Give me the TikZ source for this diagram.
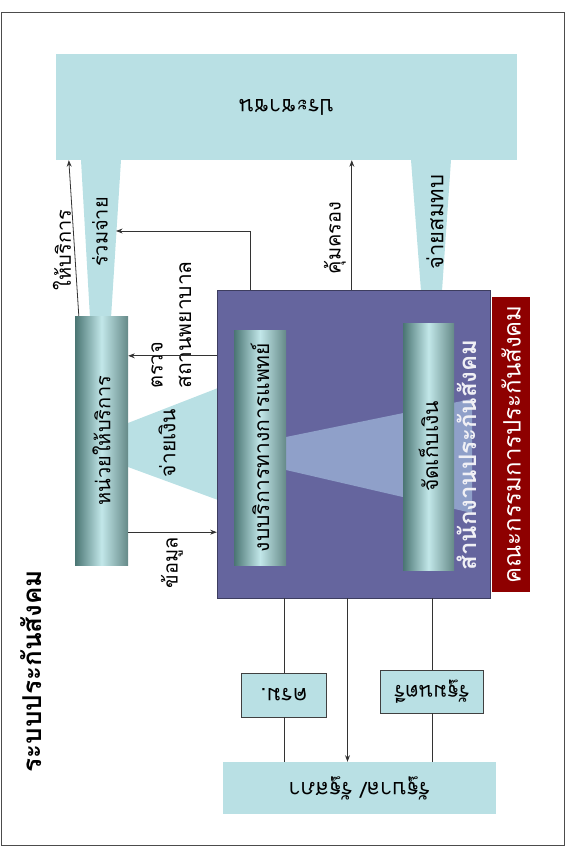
\documentclass[tikz,border=0pt]{standalone}
\usepackage{fontspec}
\newfontfamily\thaifont[Script=Thai]{Loma}
\usepackage{tikz}
\usetikzlibrary{calc,arrows.meta}

\definecolor{paleblue}{HTML}{B9E0E4}
\definecolor{ssoblue}{HTML}{65659E}
\definecolor{fundblue}{HTML}{8FA0C9}
\definecolor{boardred}{HTML}{8E0000}
\definecolor{tubedark}{HTML}{4A7573}
\definecolor{tubelight}{HTML}{C2E7E9}

\newcommand{\thsize}[1]{\thaifont\fontsize{#1}{#1}\selectfont}

\begin{document}
\begin{tikzpicture}[x=1pt,y=-1pt,>=Stealth,font=\thsize{20}]
		\tikzstyle{pale}=[fill=paleblue,inner sep=0pt]
		\tikzstyle{smallbox}=[draw=black!75,thick,fill=paleblue,inner sep=0pt]
		\tikzstyle{tube}=[left color=tubedark,right color=tubedark!85,middle color=tubelight,inner sep=0pt]
		\tikzstyle{note}=[rotate=90,inner sep=1pt]
		\tikzstyle{flip}=[rotate=180,inner sep=1pt]
		\tikzstyle{link}=[thick,draw=black!80]
		
		\useasboundingbox (0,0) rectangle (568,848);
		\draw[thick,black!70] (1,12) rectangle (564,845);
		
		% boxes
		\node[pale,minimum width=461,minimum height=106] (people) at (286.5,107) {};
		\node[pale,minimum width=273,minimum height=52] (gov) at (359.5,788) {};
		\node[smallbox,minimum width=85,minimum height=44] (cabinet) at (284,695) {};
		\node[smallbox,minimum width=103,minimum height=43] (minister) at (432,691.5) {};
		
		% flows
		\fill[paleblue] (81,160) -- (121,160) -- (111,318) -- (90,318) -- cycle;
		\fill[paleblue] (411,160) -- (451,160) -- (442,291) -- (421,291) -- cycle;
		\fill[paleblue] (128,423) -- (218,388) -- (218,500) -- (128,467) -- cycle;
		
		\node[fill=ssoblue,draw=ssoblue!60!black,minimum width=273,minimum height=308,inner sep=0pt] (sso) at (353.5,444) {};
		\node[fill=boardred,minimum width=38,minimum height=295,inner sep=0pt] (board) at (511,444.5) {};
		\fill[fundblue] (286,437) -- (472,399) -- (472,513) -- (286,470) -- cycle;
		
		\node[tube,minimum width=53,minimum height=249] (provider) at (101.5,440.5) {};
		\node[tube,minimum width=52,minimum height=235] (budget) at (260,447.5) {};
		\node[tube,minimum width=51,minimum height=247] (collect) at (428.5,446.5) {};
		
		% texts
		\node[flip,font=\thsize{22}] (peopletxt) at (people) {ประชาชน};
		\node[flip,font=\thsize{22}] (govtxt) at (gov) {รัฐบาล/ รัฐสภา};
		\node[flip,font=\thsize{22}] (cabinettxt) at (cabinet) {ครม.};
		\node[flip,font=\thsize{21}] (ministertxt) at (minister) {รัฐมนตรี};
		\node[note,font=\thsize{20}] (providertxt) at (provider) {หน่วยให้บริการ};
		\node[note,font=\thsize{21}] (budgettxt) at (budget) {งบบริการทางการแพทย์};
		\node[note,font=\thsize{21}] (collecttxt) at (collect) {จัดเก็บเงิน};
		\node[note,text=white!90!ssoblue,font=\thsize{24}\bfseries] (ssotxt) at (467,455) {สำนักงานประกันสังคม};
		\node[note,text=white,font=\thsize{24}] (boardtxt) at (board) {คณะกรรมการประกันสังคม};
		\node[note,font=\thsize{26}\bfseries] (title) at (31,671) {ระบบประกันสังคม};
		
		\node[note] (lserve) at (62,250) {ให้บริการ};
		\node[note] (lcopay) at (100,232) {ร่วมจ่าย};
		\node[note] (lprotect) at (335,238) {คุ้มครอง};
		\node[note,font=\thsize{22}] (lcontrib) at (435,222) {จ่ายสมทบ};
		\node[note,anchor=west] (linspect) at (157,390) {ตรวจ};
		\node[note,anchor=west,font=\thsize{21}] (lclinic) at (185,390) {สถานพยาบาล};
		\node[note,font=\thsize{21}] (lpay) at (167,443) {จ่ายเงิน};
		\node[note] (ldata) at (172,563) {ข้อมูล};
		
		% connectors
		\coordinate (copayend) at (116,231);
		\draw[link,->] ($(provider.north west)+(4,0)$) -- ($(people.south west)+(13,0)$);
		\draw[link,->] ($(sso.north west)+(34,0)$) |- (copayend);
		\draw[link,->] ($(sso.north west)+(135,0)$) coordinate (p) -- (p |- people.south);
		\draw[link,->] ($(sso.north west)+(0,66)$) coordinate (q) -- (q -| provider.east);
		\draw[link,->] ($(provider.south east)+(0,-33)$) coordinate (r) -- (r -| sso.west);
		\draw[link,->] ($(sso.south)+(-6,0)$) coordinate (s) -- (s |- gov.north);
		\foreach \i in {cabinet,minister}{
		\draw[link] (\i |- sso.south) -- (\i.north);
		\draw[link] (\i.south) -- (\i |- gov.north);
		}
		
	\end{tikzpicture}
\end{document}
